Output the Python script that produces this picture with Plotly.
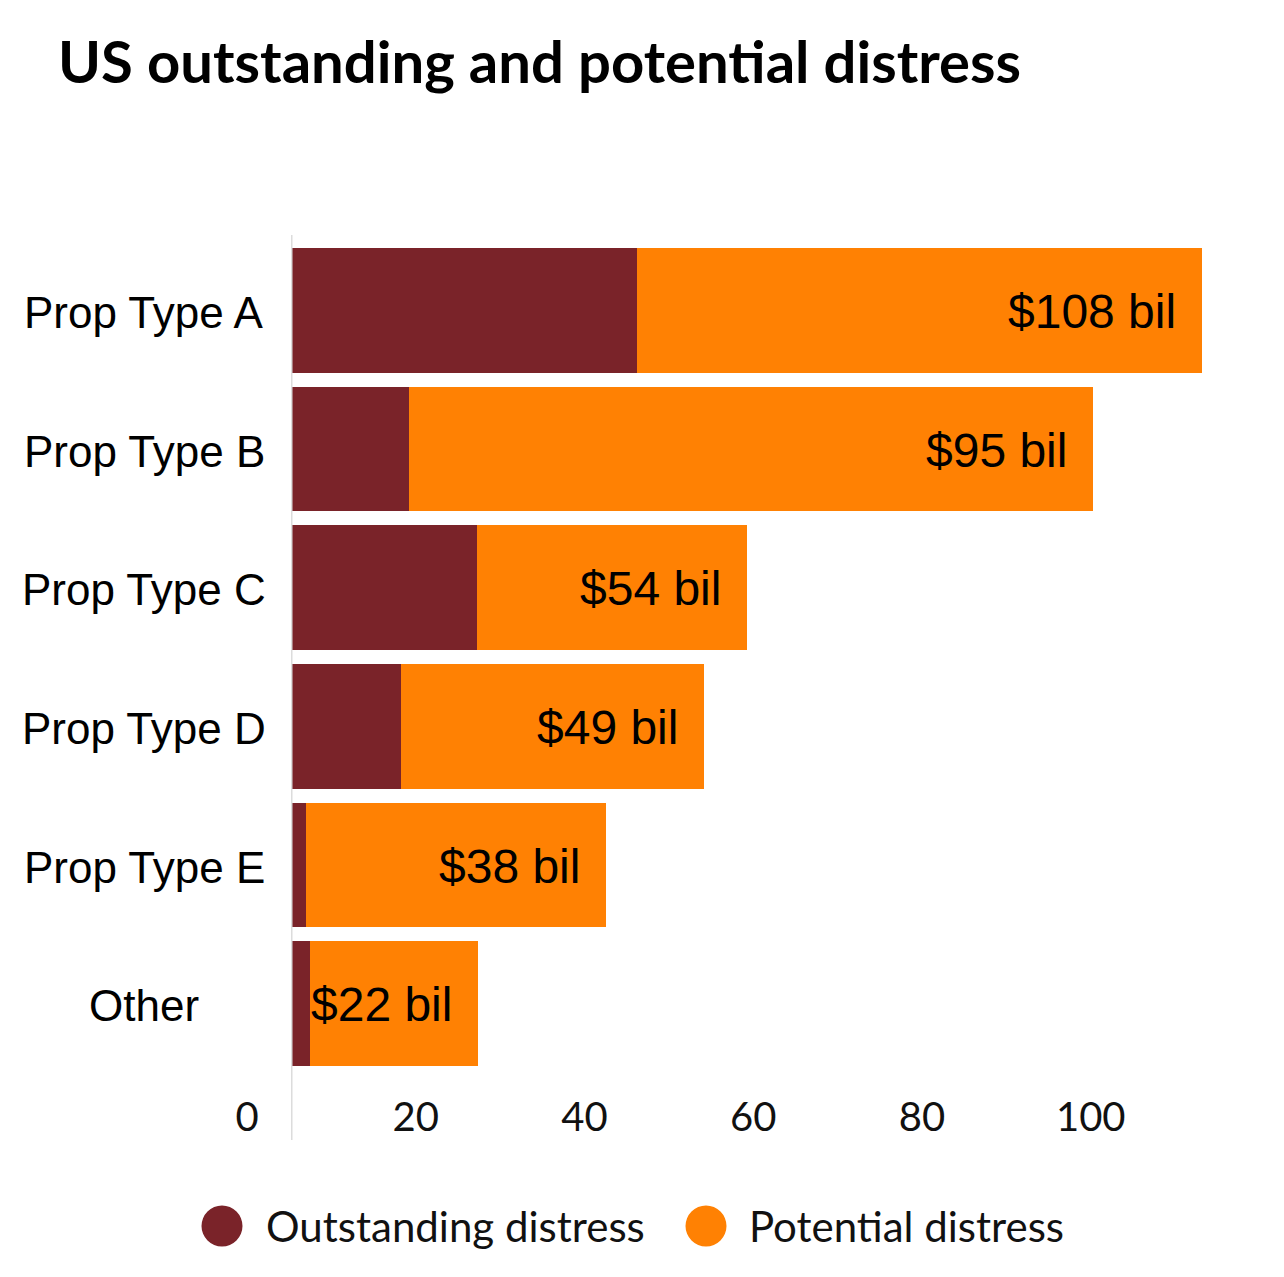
import plotly.graph_objects as go

categories = ['Prop Type A', 'Prop Type B', 'Prop Type C', 'Prop Type D', 'Prop Type E', 'Other']
outstanding = [41, 14, 22, 13, 1.8, 2.2]
potential = [67, 81, 32, 36, 35.5, 20]
total_labels = ['$108 bil', '$95 bil', '$54 bil', '$49 bil', '$38 bil', '$22 bil']
series_names = ['Outstanding distress', 'Potential distress']
series_colors = ['#7a2329', '#ff8103']

W, H = 1284, 1277
OFF = 8  # page body margin
L, R, T, B = 291 - OFF, 48 + OFF, 241 - OFF, 204 + OFF
plot_w = W - L - R
plot_h = H - T - B
bottom_px = 1073  # plot bottom in the page

fig = go.Figure()
fig.add_bar(y=categories, x=outstanding, orientation='h', name=series_names[0],
            marker=dict(color=series_colors[0], line_width=0), showlegend=False)
fig.add_bar(y=categories, x=potential, orientation='h', name=series_names[1],
            marker=dict(color=series_colors[1], line_width=0), showlegend=False)

# value labels at the end of each stacked bar
for cat, o, p, lab in zip(categories, outstanding, potential, total_labels):
    fig.add_annotation(x=o + p, y=cat, text=lab, showarrow=False, xanchor='right',
                       xshift=-24, yshift=-1,
                       font=dict(family='Liberation Sans, Arial', size=48, color='black'))

# category labels, centred in the left margin
for cat in categories:
    fig.add_annotation(xref='paper', x=(144 - 291) / plot_w, y=cat, text=cat, showarrow=False,
                       xanchor='center', yshift=-2,
                       font=dict(family='Liberation Sans, Arial', size=44, color='black'))

# vertical baseline
fig.add_shape(type='line', xref='x', x0=0, x1=0, yref='paper',
              y0=-(1140 - bottom_px) / plot_h, y1=1 + (241 - 235) / plot_h,
              line=dict(color='#dcdcdc', width=3))

# legend built from circles + text
legend_x = [222, 706]
legend_text_x = [264, 747]
legend_y = -(1226 - bottom_px) / plot_h
for name, col, cx, tx in zip(series_names, series_colors, legend_x, legend_text_x):
    fig.add_shape(type='circle', xref='paper', yref='paper', xsizemode='pixel', ysizemode='pixel',
                  xanchor=(cx - 291) / plot_w, yanchor=legend_y, x0=-20.5, x1=20.5, y0=-20.5, y1=20.5,
                  fillcolor=col, line_width=0)
    fig.add_annotation(xref='paper', yref='paper', x=(tx - 291) / plot_w, y=legend_y, text=name,
                       showarrow=False, xanchor='left', yanchor='middle',
                       font=dict(family='Lato', size=42, color='#111'))

fig.update_layout(
    width=W, height=H,
    barmode='stack', bargap=0.1,
    plot_bgcolor='white', paper_bgcolor='white',
    margin=dict(l=L, r=R, t=T, b=B),
    title=dict(text='<b>US outstanding and potential distress</b>', x=(58 - OFF) / W, xanchor='left',
               xref='container', y=1 - (63 - OFF) / H, yanchor='middle', yref='container',
               font=dict(family='Lato', size=58, color='black')),
    xaxis=dict(range=[0, 112], tickvals=[0, 20, 40, 60, 80, 100], showgrid=False, zeroline=False,
               showline=False, ticks='', ticklabelshift=-44, ticklabelstandoff=17,
               tickfont=dict(family='Lato', size=40, color='#111')),
    yaxis=dict(autorange='reversed', showticklabels=False, showgrid=False, zeroline=False,
               showline=False, ticks=''),
)

fig.write_html('out.html')
